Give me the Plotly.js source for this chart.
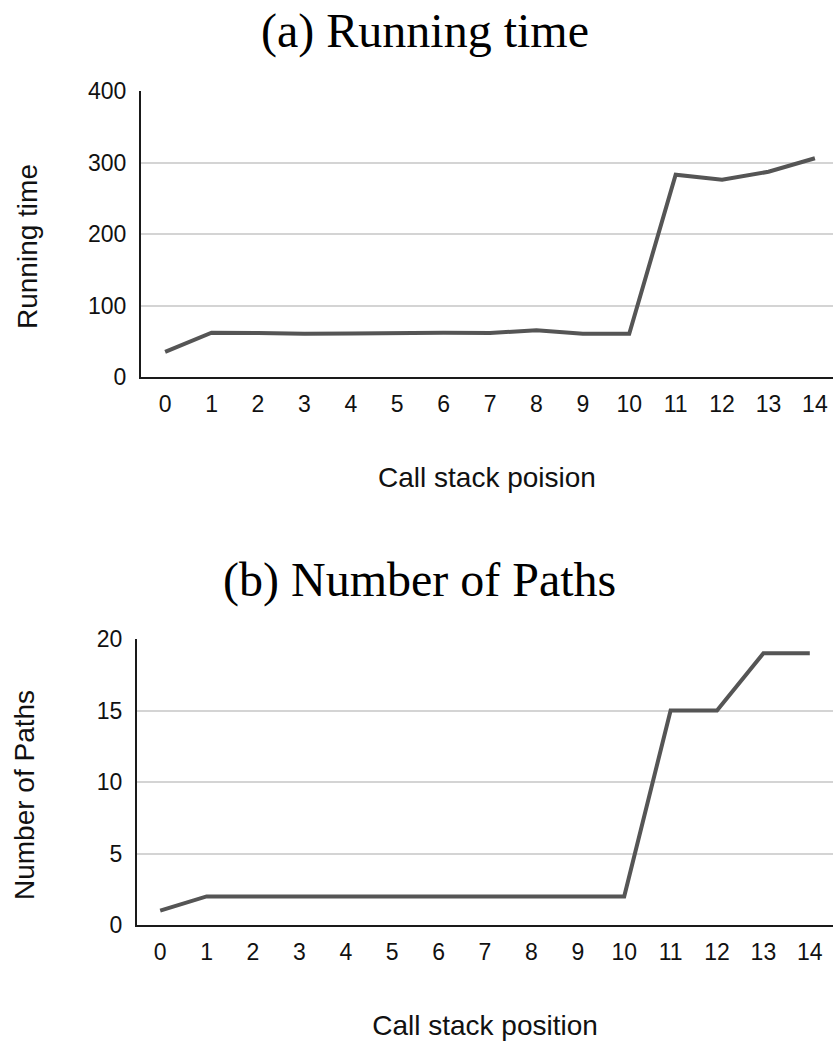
<!DOCTYPE html>
<html>
<head>
<meta charset="utf-8">
<script src="https://cdn.plot.ly/plotly-3.0.1.min.js"></script>
<style>html,body{margin:0;padding:0;background:#fff;}#chart{width:833px;height:1045px;}</style>
</head>
<body>
<div id="chart"></div>
<script>
// Data
const positions = [0,1,2,3,4,5,6,7,8,9,10,11,12,13,14];
const runningTime = [35, 62, 61.5, 60.5, 61, 62, 62, 61.5, 65.5, 60.5, 60.5, 283, 276, 287, 306];
const numberOfPaths = [1, 2, 2, 2, 2, 2, 2, 2, 2, 2, 2, 15, 15, 19, 19];
const tickLabels = positions.map(String);
const titleA = "(a) Running time";
const titleB = "(b) Number of Paths";
const yTitleA = "Running time";
const yTitleB = "Number of Paths";
const xTitleA = "Call stack poision";
const xTitleB = "Call stack position";

// Layout helpers (pixel -> paper)
const W = 833, H = 1045, ML = 137;
const PW = W - ML;
const px = v => (v - ML) / PW;
const py = v => 1 - v / H;

const sans = "Liberation Sans, Arial, sans-serif";
const serif = "Liberation Serif, Times New Roman, serif";
const lineColor = "#555555";

const traces = [
  {x: positions, y: runningTime, type: 'scatter', mode: 'lines', xaxis: 'x', yaxis: 'y',
   line: {color: lineColor, width: 4}, hoverinfo: 'x+y'},
  {x: positions, y: numberOfPaths, type: 'scatter', mode: 'lines', xaxis: 'x2', yaxis: 'y2',
   line: {color: lineColor, width: 4}, hoverinfo: 'x+y'}
];

const xCommon = {
  tickmode: 'array', tickvals: positions, ticktext: tickLabels,
  showgrid: false, zeroline: false, showline: true, linecolor: '#1a1a1a', linewidth: 2,
  ticks: '', ticklabelstandoff: 5,
  tickfont: {family: sans, size: 23, color: '#111'},
  fixedrange: true
};
const yCommon = {
  showgrid: true, gridcolor: '#d4d4d4', gridwidth: 2, zeroline: false,
  showline: true, linecolor: '#1a1a1a', linewidth: 2,
  ticks: '', ticklabelstandoff: 8,
  tickfont: {family: sans, size: 23, color: '#111'},
  fixedrange: true
};

const titleFont = {family: sans, size: 28, color: '#111'};

const layout = {
  width: W, height: H,
  margin: {l: ML, r: 0, t: 0, b: 0},
  paper_bgcolor: '#fff', plot_bgcolor: '#fff',
  showlegend: false,
  xaxis: Object.assign({}, xCommon, {domain: [px(141), 1], range: [-0.52, 14.39], anchor: 'y',
    title: {text: xTitleA, standoff: 52, font: titleFont}}),
  yaxis: Object.assign({}, yCommon, {domain: [py(377), py(91)], range: [0, 400], dtick: 100, anchor: 'x'}),
  xaxis2: Object.assign({}, xCommon, {domain: [0, 1], range: [-0.5, 14.5], anchor: 'y2',
    title: {text: xTitleB, standoff: 52, font: titleFont}}),
  yaxis2: Object.assign({}, yCommon, {domain: [py(925), py(639)], range: [0, 20], dtick: 5, anchor: 'x2'}),
  annotations: [
    {text: titleA, xref: 'paper', yref: 'paper', x: px(425), y: py(31), xanchor: 'center', yanchor: 'middle',
     showarrow: false, font: {family: serif, size: 48, color: '#000'}},
    {text: titleB, xref: 'paper', yref: 'paper', x: px(419), y: py(580), xanchor: 'center', yanchor: 'middle',
     showarrow: false, font: {family: serif, size: 48, color: '#000'}},
    {text: yTitleA, xref: 'paper', yref: 'paper', x: px(28), y: py(247), xanchor: 'center', yanchor: 'middle',
     textangle: -90, showarrow: false, font: titleFont},
    {text: yTitleB, xref: 'paper', yref: 'paper', x: px(24), y: py(795), xanchor: 'center', yanchor: 'middle',
     textangle: -90, showarrow: false, font: titleFont}
  ]
};

Plotly.newPlot('chart', traces, layout, {displayModeBar: false, staticPlot: true});
</script>
</body>
</html>
